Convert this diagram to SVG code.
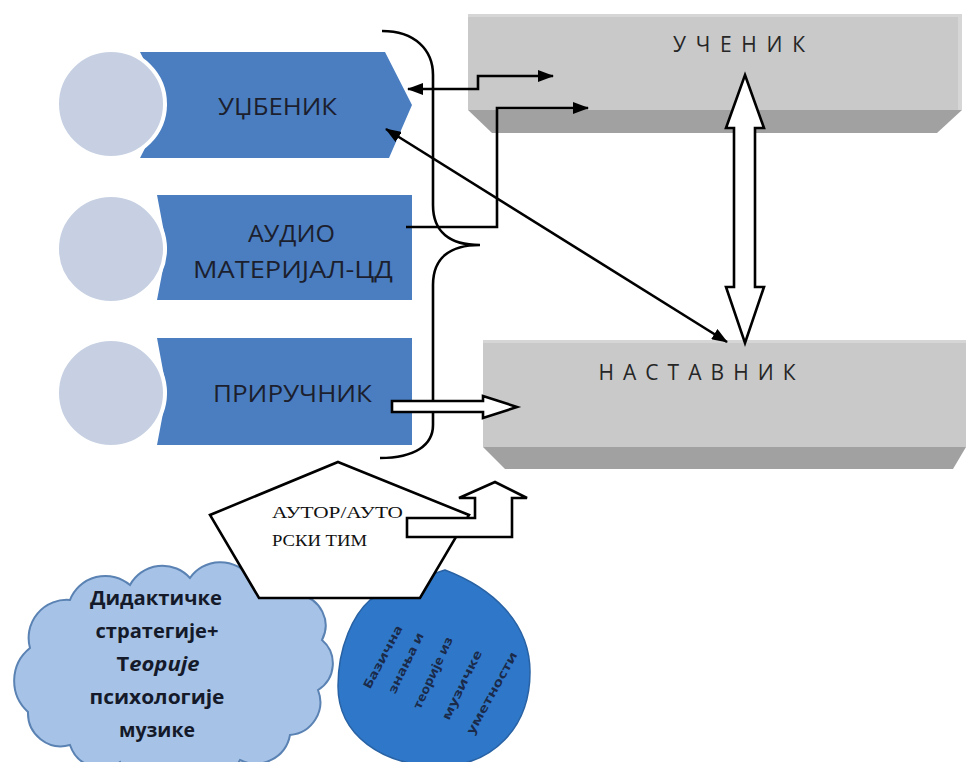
<svg xmlns="http://www.w3.org/2000/svg" width="966" height="762" viewBox="0 0 966 762">
  <defs>
    <style>
      .face { fill: #c9c9c9; }
      .edge { fill: #d6d6d6; }
      .band { fill: #a1a1a1; }
      .boxlabel { font-family: "Open Sans", "Liberation Sans", sans-serif; font-size: 21px; fill: #262626; text-anchor: middle; }
      .pill { fill: #4a7ec1; }
      .disc { fill: #c6d0e2; stroke: #ffffff; stroke-width: 4; }
      .pilltext { font-family: "Open Sans", "Liberation Sans", sans-serif; font-size: 24px; fill: #1c1f2e; }
      .line { fill: none; stroke: #000000; stroke-width: 2.6; }
      .hollow { fill: #ffffff; stroke: #000000; stroke-width: 2.6; stroke-linejoin: miter; }
      .serif { font-family: "Liberation Serif", "DejaVu Serif", serif; font-size: 17px; fill: #111111; }
      .cloudtext { font-family: "Open Sans", "Liberation Sans", sans-serif; font-weight: bold; font-size: 20px; fill: #151a2a; text-anchor: middle; }
      .blobtext { font-family: "Open Sans", "Liberation Sans", sans-serif; font-weight: bold; font-size: 12px; fill: #1a2a48; text-anchor: middle; }
    </style>
    <marker id="ah" viewBox="0 0 16 12" refX="15" refY="6" markerWidth="16" markerHeight="12" markerUnits="userSpaceOnUse" orient="auto-start-reverse">
      <path d="M0,0 L16,6 L0,12 z" fill="#000000"/>
    </marker>
  </defs>

  <rect width="966" height="762" fill="#ffffff"/>

  <!-- learner block -->
  <g id="ucenik">
    <rect class="face" x="468" y="14" width="494" height="96"/>
    <rect class="edge" x="468" y="14" width="494" height="3"/>
    <rect class="edge" x="958" y="14" width="4" height="96"/>
    <polygon class="band" points="468,110 962,110 937,133 492,133"/>
    <text class="boxlabel" x="739" y="52" textLength="132" lengthAdjust="spacing">УЧЕНИК</text>
  </g>

  <!-- teacher block -->
  <g id="nastavnik">
    <rect class="face" x="483" y="340" width="483" height="107"/>
    <rect class="edge" x="483" y="340" width="483" height="3"/>
    <polygon class="band" points="483,447 966,447 953,469 505,469"/>
    <text class="boxlabel" x="697" y="380" textLength="197" lengthAdjust="spacing">НАСТАВНИК</text>
  </g>

  <!-- textbook -->
  <g id="udzbenik">
    <polygon class="pill" points="140,52 385,52 412,105 389,158 140,158 167,105"/>
    <circle class="disc" cx="111" cy="104" r="54"/>
    <text class="pilltext" x="218" y="115" textLength="119" lengthAdjust="spacingAndGlyphs">УЏБЕНИК</text>
  </g>

  <!-- audio material -->
  <g id="audio">
    <polygon class="pill" points="157,195 412,195 412,300 157,300 167,248"/>
    <circle class="disc" cx="111" cy="249" r="54"/>
    <text class="pilltext" x="248" y="242" textLength="87" lengthAdjust="spacingAndGlyphs">АУДИО</text>
    <text class="pilltext" x="193" y="278" textLength="200" lengthAdjust="spacingAndGlyphs">МАТЕРИЈАЛ-ЦД</text>
  </g>

  <!-- handbook -->
  <g id="prirucnik">
    <polygon class="pill" points="157,338 412,338 412,445 157,445 167,392"/>
    <circle class="disc" cx="111" cy="393" r="54"/>
    <text class="pilltext" x="213" y="402" textLength="159" lengthAdjust="spacingAndGlyphs">ПРИРУЧНИК</text>
  </g>

  <!-- curly brace grouping the three materials -->
  <g id="brace">
    <path class="line" d="M382,31 C415,31 433,50 433,75 L433,205 C433,232 450,245 480,245 C450,245 433,258 433,285 L433,425 C433,445 415,458 380,458"/>
  </g>

  <!-- music knowledge blob -->
  <g id="znanje">
    <path d="M445,570 C492,588 530,622 530,672 C530,728 492,766 440,766 C382,766 338,735 338,686 C338,646 354,614 370,600 C394,586 422,578 445,570 Z" fill="#2f77c8" stroke="#2862a4" stroke-width="1.5"/>
    <text class="blobtext" transform="translate(383,657) rotate(-62)" y="4" textLength="70" lengthAdjust="spacingAndGlyphs">Базична</text>
    <text class="blobtext" transform="translate(406,663) rotate(-64)" y="4" textLength="66" lengthAdjust="spacingAndGlyphs">знања и</text>
    <text class="blobtext" transform="translate(433,673) rotate(-65)" y="4" textLength="78" lengthAdjust="spacingAndGlyphs">теорије из</text>
    <text class="blobtext" transform="translate(462,685) rotate(-64)" y="4" textLength="76" lengthAdjust="spacingAndGlyphs">музичке</text>
    <text class="blobtext" transform="translate(492,693) rotate(-61)" y="4" textLength="92" lengthAdjust="spacingAndGlyphs">уметности</text>
  </g>

  <!-- didactic strategies cloud -->
  <g id="strategije">
    <path d="M30,648 A38,38 0 0 1 70,600 A38,38 0 0 1 130,585 A37,37 0 0 1 190,578 A37,37 0 0 1 250,577 A33,33 0 0 1 300,595 A31,31 0 0 1 322,640 A31,31 0 0 1 318,690 A33,33 0 0 1 290,735 A35,35 0 0 1 240,760 A37,37 0 0 1 180,768 A37,37 0 0 1 120,762 A33,33 0 0 1 70,745 A33,33 0 0 1 28,712 A42,42 0 0 1 30,648 Z" fill="#a6c3e7" stroke="#5a82b3" stroke-width="2"/>
    <text class="cloudtext" x="156" y="605" textLength="132" lengthAdjust="spacingAndGlyphs">Дидактичке</text>
    <text class="cloudtext" x="157" y="638" textLength="123" lengthAdjust="spacingAndGlyphs">стратегије+</text>
    <text class="cloudtext" x="158" y="671" textLength="83" lengthAdjust="spacingAndGlyphs">Т<tspan font-style="italic">еорије</tspan></text>
    <text class="cloudtext" x="157" y="704" textLength="135" lengthAdjust="spacingAndGlyphs">психологије</text>
    <text class="cloudtext" x="157" y="737" textLength="76" lengthAdjust="spacingAndGlyphs">музике</text>
  </g>

  <!-- author / author team -->
  <g id="autor">
    <polygon class="hollow" points="338,462 469,515 420,598 259,598 210,515"/>
    <text class="serif" x="272" y="518" textLength="131" lengthAdjust="spacingAndGlyphs">АУТОР/АУТО</text>
    <text class="serif" x="272" y="546" textLength="95" lengthAdjust="spacingAndGlyphs">РСКИ ТИМ</text>
  </g>

  <!-- connectors -->
  <g id="connectors">
    <path class="line" d="M408,89 H478 V76 H553" marker-start="url(#ah)" marker-end="url(#ah)"/>
    <path class="line" d="M406,227 H497 V108 H588" marker-end="url(#ah)"/>
    <path class="line" d="M386,129 L727,342" marker-start="url(#ah)" marker-end="url(#ah)"/>
    <polygon class="hollow" points="745,75 764,128 755,128 755,287 764,287 745,343 726,287 734,287 734,128 726,128"/>
    <polygon class="hollow" points="392,401 483,401 483,396 517,407 483,418 483,412 392,412"/>
    <polygon class="hollow" points="407,518 475,518 475,498 459,498 495,482 527,498 512,498 512,537 407,537"/>
  </g>
</svg>
